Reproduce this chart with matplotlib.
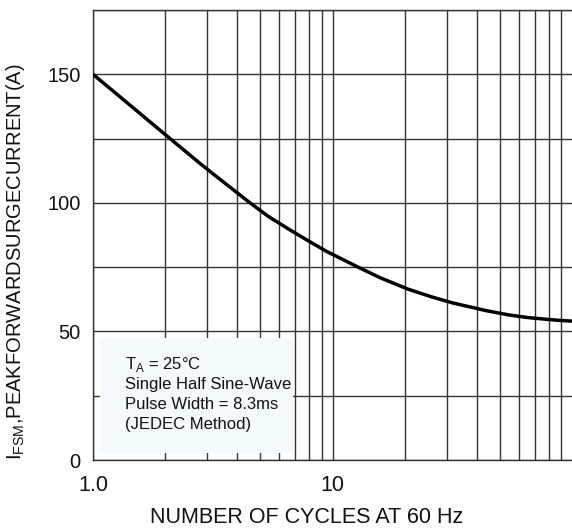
import matplotlib
matplotlib.use('Agg')
import matplotlib.pyplot as plt
from matplotlib.ticker import FixedLocator, NullFormatter

plt.rcParams['font.family'] = ['Liberation Sans', 'DejaVu Sans']
plt.rcParams['mathtext.fontset'] = 'custom'
plt.rcParams['mathtext.rm'] = 'Liberation Sans'

# surge current vs number of cycles
cycles = [1, 2.06, 2.8, 3.17, 4.44, 5.38, 6.56, 7.64, 9.41, 12.6, 15.8, 20.6, 25.8,
          31.7, 43.7, 54.6, 65.2, 76.4, 88.3, 100]
current = [150, 125.6, 115.3, 111.3, 100.6, 94.8, 89.8, 86.1, 81.2, 75.3, 70.9, 66.5, 63.5,
           61.1, 58.1, 56.4, 55.4, 54.8, 54.3, 54.0]

x_major = [1, 10]
x_labels = ['1.0', '10']
x_minor = [2, 3, 4, 5, 6, 7, 8, 9, 20, 30, 40, 50, 60, 70, 80, 90]
y_major = [0, 50, 100, 150]
y_minor = [25, 75, 125, 175]

note_lines = ['T$_\\mathregular{A}$ = 25°C', 'Single Half Sine-Wave',
              'Pulse Width = 8.3ms', '(JEDEC Method)']

fig = plt.figure(figsize=(5.72, 5.29), dpi=100)
ax = fig.add_axes([93 / 572, 69 / 529, 479 / 572, 450 / 529])

ax.plot(cycles, current, color='black', lw=2.5, zorder=5,
        solid_capstyle='butt', solid_joinstyle='round')

ax.set_xscale('log')
ax.set_xlim(1, 100)
ax.set_ylim(0, 175)

ax.xaxis.set_major_locator(FixedLocator(x_major))
ax.xaxis.set_minor_locator(FixedLocator(x_minor))
ax.set_xticklabels(x_labels)
ax.xaxis.set_minor_formatter(NullFormatter())
ax.yaxis.set_major_locator(FixedLocator(y_major))
ax.yaxis.set_minor_locator(FixedLocator(y_minor))

ax.grid(True, which='both', color='#333333', lw=1.0)
ax.set_axisbelow(True)
ax.tick_params(which='both', length=0)
ax.tick_params(axis='x', pad=11, labelsize=15.5, colors='#111111')
ax.tick_params(axis='y', pad=9, labelsize=14.5, colors='#111111')

for side in ['left', 'bottom', 'top']:
    ax.spines[side].set_color('#333333')
    ax.spines[side].set_linewidth(1.0)
ax.spines['right'].set_visible(False)

ax.set_xlabel('NUMBER OF CYCLES AT 60 Hz', fontsize=15.5, color='#111111', va='center')
ax.xaxis.set_label_coords(0.447, -0.127)
ax.set_ylabel('I$_{\\mathregular{FSM}}$,PEAKFORWARDSURGECURRENT(A)', fontsize=14.5,
              loc='bottom', color='#111111')
ax.yaxis.set_label_coords(-0.138, 0.0)

# note box covering the grid in the lower left
ax.fill_between([1.07, 6.85], 2.7, 47.5, color='#f4f9fc', zorder=2, lw=0)
for i, line in enumerate(note_lines):
    ax.annotate(line, xy=(1.36, 37.0), xytext=(0, -14.4 * i), textcoords='offset points',
                fontsize=12, va='center', ha='left', color='#111111', zorder=3)

fig.savefig('out.png', dpi=100)
